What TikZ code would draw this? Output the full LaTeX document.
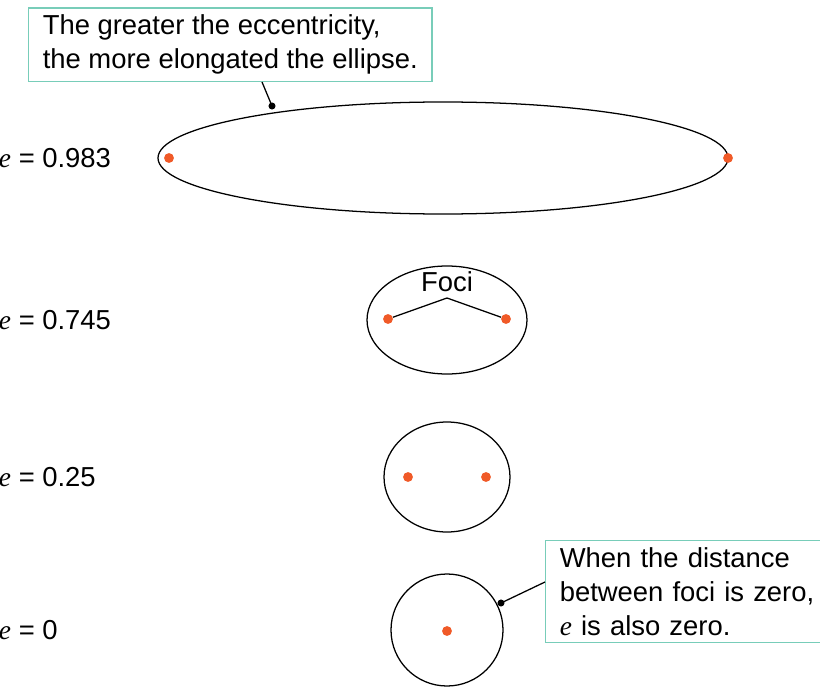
\documentclass[tikz,border=0pt]{standalone}
\usepackage{fontspec}
\setmainfont{Liberation Sans}
\newfontfamily\eccfont{Liberation Serif}
\usetikzlibrary{positioning}
\definecolor{boxteal}{RGB}{120,205,185}
\definecolor{focusred}{RGB}{240,90,40}
\tikzset{>=latex}

\begin{document}
\begin{tikzpicture}[x=0.025cm, y=-0.025cm, font=\fontsize{19.5}{24}\selectfont]
	\useasboundingbox (0,0) rectangle (820,689);
	\tikzset{
		orbit/.style={draw, line width=0.9pt},
		focus/.style={circle, fill=focusred, inner sep=0pt, minimum size=7pt},
		notebox/.style={draw=boxteal, line width=1pt, align=left, inner xsep=10pt, inner ysep=5pt},
		elabel/.style={anchor=west},
		leader/.style={line width=0.9pt}
	}
	% ellipses
	\draw[orbit] (443,158) ellipse [x radius=285, y radius=56];
	\draw[orbit] (447,320) ellipse [x radius=80, y radius=54];
	\draw[orbit] (447,477) ellipse [x radius=63, y radius=55];
	\draw[orbit] (447,630) circle [radius=56];
	% foci
	\node[focus] (f1a) at (169,158) {};
	\node[focus] (f1b) at (728,158) {};
	\node[focus] (f2a) at (388,319) {};
	\node[focus] (f2b) at (506,319) {};
	\node[focus] (f3a) at (408,477) {};
	\node[focus] (f3b) at (486,477) {};
	\node[focus] (f4) at (447,631) {};
	% eccentricity labels
	\node[elabel] (e1) at (-6,158) {{\eccfont\itshape e} = 0.983};
	\node[elabel] (e2) at (-6,320) {{\eccfont\itshape e} = 0.745};
	\node[elabel] (e3) at (-6,477) {{\eccfont\itshape e} = 0.25};
	\node[elabel] (e4) at (-6,630) {{\eccfont\itshape e} = 0};
	% foci label
	\node (foci) at (447,282) {Foci};
	\coordinate (fociroot) at (447,298);
	\draw[leader] (f2a) -- (fociroot) -- (f2b);
	% notes
	\node[notebox, anchor=south west] (topnote) at (28,82) {The greater the eccentricity,\\the more elongated the ellipse.};
	\coordinate (topend) at (272,106);
	\draw[leader] (262,82) -- (topend);
	\fill (topend) circle (2.5pt);
	\node[notebox, anchor=north west, text width=6.4cm] (botnote) at (545,540) {When the distance\\between foci is zero,\\{\eccfont\itshape e} is also zero.};
	\coordinate (botend) at (501,603);
	\draw[leader] (botend) -- (botnote.west |- 0,582);
	\fill (botend) circle (2.5pt);
\end{tikzpicture}
\end{document}
